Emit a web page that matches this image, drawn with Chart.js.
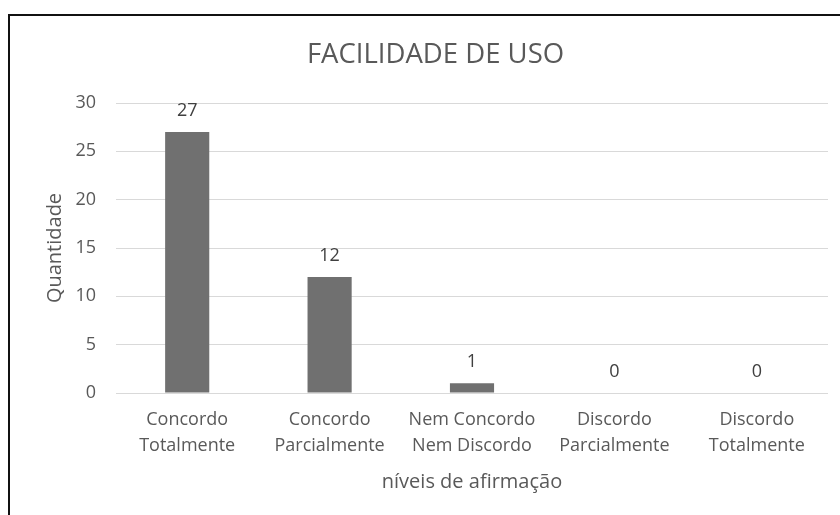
<!DOCTYPE html>
<html>
<head>
<meta charset="utf-8">
<script src="https://cdn.jsdelivr.net/npm/chart.js@4.4.0/dist/chart.umd.min.js"></script>
<style>
  html, body { margin: 0; padding: 0; background: #fff; }
  #wrap { position: relative; width: 840px; height: 515px; overflow: hidden; }
  #frame {
    position: absolute; left: 8px; top: 14px; right: -10px; bottom: -10px;
    border-top: 2px solid #111; border-left: 2px solid #111;
    pointer-events: none;
  }
  canvas { position: absolute; left: 0; top: 0; }
</style>
</head>
<body>
<div id="wrap">
  <canvas id="usoChart" width="840" height="515"></canvas>
  <div id="frame"></div>
</div>
<script>
// Data
const categories = [
  ["Concordo", "Totalmente"],
  ["Concordo", "Parcialmente"],
  ["Nem Concordo", "Nem Discordo"],
  ["Discordo", "Parcialmente"],
  ["Discordo", "Totalmente"],
];
const quantidades = [27, 12, 1, 0, 0];
const yTicks = [0, 5, 10, 15, 20, 25, 30];

const textColor = "#595959";
const fontFamily = "'Open Sans', 'Noto Sans', sans-serif";

// value labels above the bars
const barLabels = {
  id: "barLabels",
  afterDatasetsDraw(chart) {
    const ctx = chart.ctx;
    const meta = chart.getDatasetMeta(0);
    ctx.save();
    ctx.font = "18px " + fontFamily;
    ctx.fillStyle = "#404040";
    ctx.textAlign = "center";
    ctx.textBaseline = "middle";
    meta.data.forEach((bar, i) => {
      ctx.fillText(String(quantidades[i]), bar.x, bar.y - 21);
    });
    ctx.restore();
  },
};

const usoCtx = document.getElementById("usoChart").getContext("2d");
const usoChart = new Chart(usoCtx, {
  type: "bar",
  data: {
    labels: categories,
    datasets: [
      {
        label: "Quantidade",
        data: quantidades,
        backgroundColor: "#707070",
        borderWidth: 0,
        categoryPercentage: 1,
        barPercentage: 0.31,
      },
    ],
  },
  options: {
    responsive: false,
    animation: false,
    layout: {
      padding: { left: 43, right: 12, top: 0, bottom: 21 },
    },
    plugins: {
      legend: { display: false },
      tooltip: { enabled: false },
      title: {
        display: true,
        text: "FACILIDADE DE USO",
        color: textColor,
        font: { family: fontFamily, size: 27.5, weight: "normal", lineHeight: 1.2 },
        padding: { top: 39, bottom: 31 },
      },
    },
    scales: {
      x: {
        grid: { display: false },
        border: { display: false },
        ticks: {
          color: textColor,
          padding: 6,
          maxRotation: 0,
          autoSkip: false,
          font: { family: fontFamily, size: 18, lineHeight: "26px" },
        },
        title: {
          display: true,
          text: "níveis de afirmação",
          color: textColor,
          font: { family: fontFamily, size: 20, lineHeight: 1.2 },
          padding: { top: 0, bottom: 0 },
        },
        afterFit(scale) {
          scale.height = 101;
        },
      },
      y: {
        min: 0,
        max: 30,
        afterBuildTicks(scale) {
          scale.ticks = yTicks.map((v) => ({ value: v }));
        },
        grid: { color: "#d9d9d9", lineWidth: 1, drawTicks: false },
        border: { display: false },
        ticks: {
          color: textColor,
          padding: 20,
          font: { family: fontFamily, size: 18 },
        },
        title: {
          display: true,
          text: "Quantidade",
          color: textColor,
          font: { family: fontFamily, size: 20, lineHeight: 1.2 },
          padding: { top: 0, bottom: 0 },
        },
        afterFit(scale) {
          scale.width = 73;
        },
      },
    },
  },
  plugins: [barLabels],
});
</script>
</body>
</html>
